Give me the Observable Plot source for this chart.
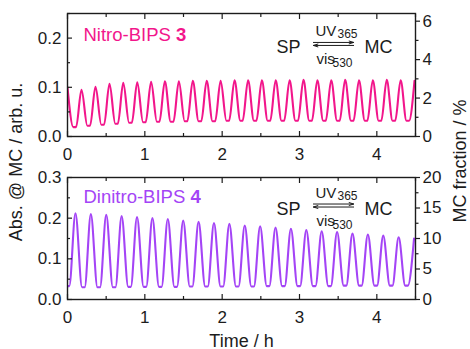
<!DOCTYPE html>
<html>
<head>
<meta charset="utf-8">
<script src="https://cdn.jsdelivr.net/npm/d3@7"></script>
<script src="https://cdn.jsdelivr.net/npm/@observablehq/plot@0.6"></script>
<style>
  body { margin: 0; background: #fff; }
  #fig { position: relative; width: 470px; height: 349px; font-family: "Liberation Sans", Arial, sans-serif; }
  #fig > svg { position: absolute; left: 0; }
</style>
</head>
<body>
<div id="fig"></div>
<script>
// ---- shared time axis (h) ----
const hourTicks = [0, 1, 2, 3, 4];
const halfHourTicks = [0.5, 1.5, 2.5, 3.5, 4.5];

// ---- Nitro-BIPS 3: switching cycles ----
// peak times (h) and absorbance at each peak; the trace starts on a peak at t = 0
const nitroPeakTime = [0, 0.181, 0.362, 0.543, 0.721, 0.902, 1.081, 1.259, 1.440, 1.620, 1.800, 1.980, 2.160,
  2.335, 2.513, 2.692, 2.872, 3.051, 3.231, 3.410, 3.590, 3.769, 3.948, 4.128, 4.308, 4.487];
const nitroPeakAbs = [0.100, 0.095, 0.101, 0.107, 0.109, 0.110, 0.111, 0.112, 0.112, 0.113, 0.113, 0.113, 0.114,
  0.114, 0.114, 0.114, 0.114, 0.115, 0.114, 0.114, 0.115, 0.114, 0.114, 0.115, 0.114, 0.113];
// absorbance in the trough between consecutive peaks
const nitroTroughAbs = [0.019, 0.022, 0.024, 0.026, 0.028, 0.029, 0.030, 0.030, 0.031, 0.031, 0.031, 0.032, 0.032,
  0.032, 0.032, 0.032, 0.032, 0.032, 0.032, 0.032, 0.032, 0.032, 0.032, 0.032, 0.032];
const nitroRise = 0.07, nitroFall = 0.075;        // UV / vis switching times (h)
const nitroAbsTicks = [0, 0.1, 0.2];
const nitroAbsMinor = [0.05, 0.15, 0.25];
const nitroPctTicks = [0, 2, 4, 6];
const nitroPctMinor = [1, 3, 5];
const nitroAbsMax = 0.25, nitroPctMax = 6.4;      // MC fraction at full left scale

// ---- Dinitro-BIPS 4: switching cycles ----
const dinitroStartAbs = 0.033;
const dinitroPeakTime = [0.103, 0.302, 0.501, 0.700, 0.899, 1.098, 1.297, 1.496, 1.695, 1.894, 2.093, 2.292,
  2.491, 2.690, 2.889, 3.088, 3.287, 3.486, 3.685, 3.884, 4.083, 4.282, 4.481];
const dinitroPeakAbs = [0.212, 0.210, 0.208, 0.205, 0.203, 0.200, 0.198, 0.194, 0.191, 0.188, 0.186, 0.182,
  0.180, 0.177, 0.174, 0.171, 0.168, 0.166, 0.162, 0.160, 0.157, 0.153, 0.150];
const dinitroTroughAbs = [0.030, 0.030, 0.030, 0.031, 0.031, 0.031, 0.031, 0.032, 0.032, 0.032, 0.032, 0.032,
  0.033, 0.033, 0.033, 0.033, 0.033, 0.034, 0.034, 0.034, 0.034, 0.034];
const dinitroRise = 0.08, dinitroFall = 0.085;
const dinitroAbsTicks = [0, 0.1, 0.2, 0.3];
const dinitroAbsMinor = [0.05, 0.15, 0.25];
const dinitroPctTicks = [0, 5, 10, 15, 20];
const dinitroPctMinor = [2.5, 7.5, 12.5, 17.5];
const dinitroAbsMax = 0.3, dinitroPctMax = 20;

const pink = "#f2168b";
const violet = "#a444f6";
const ink = "#1c1c1c";
const font = "'Liberation Sans', Arial, sans-serif";

// Build the trace vertices: peak, end of vis decay, start of next UV rise, next peak ...
function cycleTrace(peakT, peakA, troughA, rise, fall, leadA) {
  const pts = [];
  if (leadA != null) {
    pts.push({t: 0, a: leadA});
    pts.push({t: peakT[0] - rise, a: leadA});
  }
  peakT.forEach((tp, i) => {
    pts.push({t: tp, a: peakA[i]});
    if (i < peakT.length - 1) {
      pts.push({t: tp + fall, a: troughA[i]});
      pts.push({t: peakT[i + 1] - rise, a: troughA[i]});
    }
  });
  return pts;
}

function frameAxes(absTicks, absMinor, pctTicks, pctMinor, absPerPct) {
  const blank = () => "";
  return [
    Plot.frame({stroke: ink, strokeWidth: 1.4}),
    Plot.axisX({anchor: "bottom", ticks: hourTicks, tickSize: -5, tickPadding: 16, tickFormat: d3.format("d"), label: null, stroke: ink, strokeWidth: 1.2}),
    Plot.axisX({anchor: "bottom", ticks: halfHourTicks, tickSize: -3, tickFormat: blank, label: null, stroke: ink, strokeWidth: 1.2}),
    Plot.axisX({anchor: "top", ticks: hourTicks, tickSize: -5, tickFormat: blank, label: null, stroke: ink, strokeWidth: 1.2}),
    Plot.axisX({anchor: "top", ticks: halfHourTicks, tickSize: -3, tickFormat: blank, label: null, stroke: ink, strokeWidth: 1.2}),
    Plot.axisY({anchor: "left", ticks: absTicks, tickSize: -5, tickPadding: 11, tickFormat: d3.format(".1f"), label: null, stroke: ink, strokeWidth: 1.2}),
    Plot.axisY({anchor: "left", ticks: absMinor, tickSize: -3, tickFormat: blank, label: null, stroke: ink, strokeWidth: 1.2}),
    Plot.axisY({anchor: "right", ticks: pctTicks.map(p => p * absPerPct), tickSize: 4, tickPadding: 3,
      tickFormat: d => d3.format("d")(Math.round(d / absPerPct)), label: null, stroke: ink, strokeWidth: 1.2}),
    Plot.axisY({anchor: "right", ticks: pctMinor.map(p => p * absPerPct), tickSize: 2.5, tickFormat: blank, label: null, stroke: ink, strokeWidth: 1.2})
  ];
}

// SP <=> MC scheme with the irradiation wavelengths
function scheme(x, y, x1, x2) {
  const at = [{x, y}];
  const base = {x: "x", y: "y", fill: ink, fontFamily: font, lineAnchor: "middle"};
  return [
    Plot.text(at, {...base, text: () => "SP", dx: -45, fontSize: 18, textAnchor: "middle"}),
    Plot.text(at, {...base, text: () => "MC", dx: 45, fontSize: 18, textAnchor: "middle"}),
    Plot.text(at, {...base, text: () => "UV", dx: -18, dy: -16, fontSize: 15, textAnchor: "start"}),
    Plot.text(at, {...base, text: () => "365", dx: 4, dy: -13, fontSize: 12, textAnchor: "start"}),
    Plot.text(at, {...base, text: () => "vis", dx: -17, dy: 12, fontSize: 15, textAnchor: "start"}),
    Plot.text(at, {...base, text: () => "530", dx: -1, dy: 16, fontSize: 12, textAnchor: "start"}),
    Plot.arrow([{x1, x2, y}], {x1: "x1", x2: "x2", y1: "y", y2: "y", dy: -5, stroke: ink, strokeWidth: 1, headLength: 7, headAngle: 35}),
    Plot.arrow([{x1, x2, y}], {x1: "x2", x2: "x1", y1: "y", y2: "y", dy: -2, stroke: ink, strokeWidth: 1, headLength: 7, headAngle: 35})
  ];
}

function panelLabel(name, num, color, numOffset, dy) {
  const base = {frameAnchor: "top-left", fill: color, fontFamily: font, fontSize: 18.5, lineAnchor: "middle", textAnchor: "start", dy};
  return [
    Plot.text([name], {...base, dx: 16}),
    Plot.text([num], {...base, dx: 16 + numOffset, fontWeight: "bold"})
  ];
}

const style = {fontFamily: font, fontSize: "17px", color: ink, background: "transparent", overflow: "visible"};

const nitroTrace = cycleTrace(nitroPeakTime, nitroPeakAbs, nitroTroughAbs, nitroRise, nitroFall, null);
const dinitroTrace = cycleTrace(dinitroPeakTime, dinitroPeakAbs, dinitroTroughAbs, dinitroRise, dinitroFall, dinitroStartAbs);

const topPanel = Plot.plot({
  width: 470, height: 170,
  marginLeft: 67, marginRight: 55, marginTop: 13, marginBottom: 34,
  style,
  x: {domain: [0, 4.5], axis: null},
  y: {domain: [0, nitroAbsMax], axis: null},
  marks: [
    Plot.line(nitroTrace, {x: "t", y: "a", stroke: pink, strokeWidth: 2.1, curve: "monotone-x", clip: true}),
    ...frameAxes(nitroAbsTicks, nitroAbsMinor, nitroPctTicks, nitroPctMinor, nitroAbsMax / nitroPctMax),
    ...panelLabel("Nitro-BIPS", "3", pink, 92.5, 22),
    ...scheme(3.44, 0.181, 3.18, 3.70)
  ]
});

const bottomPanel = Plot.plot({
  width: 470, height: 179,
  marginLeft: 67, marginRight: 55, marginTop: 7, marginBottom: 50,
  style,
  x: {domain: [0, 4.5], axis: null},
  y: {domain: [0, dinitroAbsMax], axis: null},
  marks: [
    Plot.line(dinitroTrace, {x: "t", y: "a", stroke: violet, strokeWidth: 2.1, curve: "monotone-x", clip: true}),
    ...frameAxes(dinitroAbsTicks, dinitroAbsMinor, dinitroPctTicks, dinitroPctMinor, dinitroAbsMax / dinitroPctMax),
    ...panelLabel("Dinitro-BIPS", "4", violet, 107, 20),
    ...scheme(3.44, 0.2225, 3.18, 3.70),
    Plot.text(["Time / h"], {frameAnchor: "bottom", dy: 47, fill: ink, fontFamily: font, fontSize: 18, lineAnchor: "bottom"})
  ]
});

const fig = document.getElementById("fig");
topPanel.style.top = "0px";
bottomPanel.style.top = "170px";
fig.append(topPanel, bottomPanel);

// shared axis titles spanning both panels
const titles = d3.create("svg")
  .attr("width", 470).attr("height", 349)
  .style("top", "0px").style("pointer-events", "none")
  .attr("font-family", font).attr("font-size", 18).attr("fill", ink);
titles.append("text")
  .attr("transform", "translate(22,162) rotate(-90)")
  .attr("text-anchor", "middle")
  .text("Abs. @ MC / arb. u.");
titles.append("text")
  .attr("transform", "translate(466,161) rotate(-90)")
  .attr("text-anchor", "middle")
  .text("MC fraction / %");
fig.append(titles.node());
</script>
</body>
</html>
